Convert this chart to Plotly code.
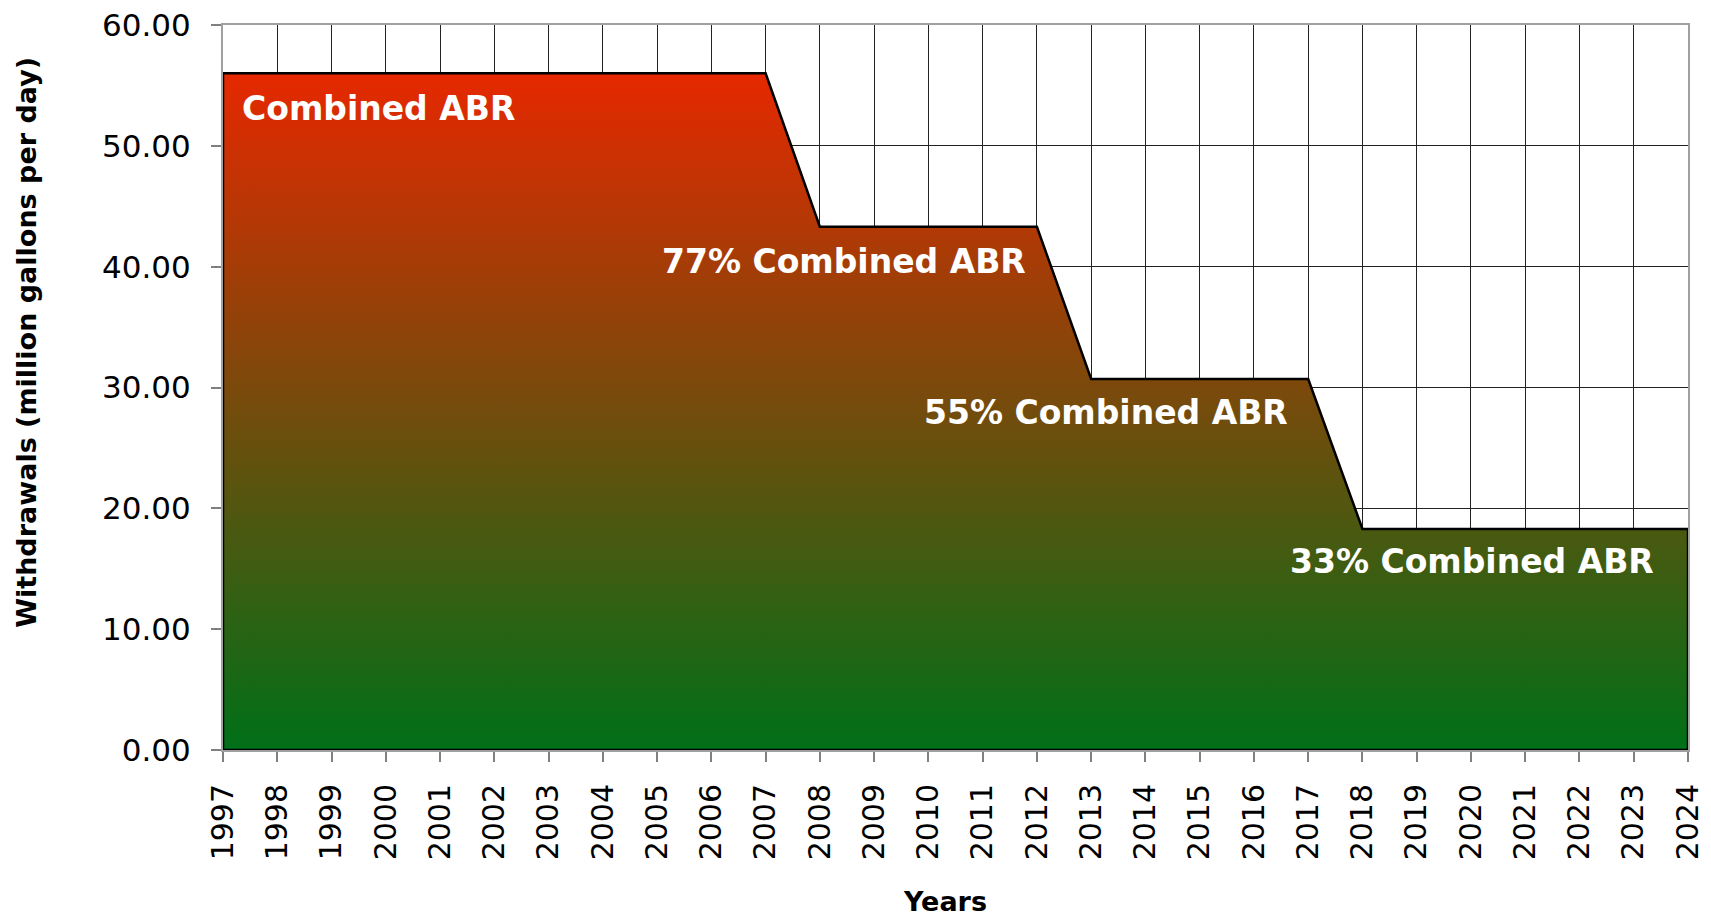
import plotly.graph_objects as go

years = list(range(1997, 2025))
withdrawals = [56.0] * 11 + [43.3] * 5 + [30.7] * 5 + [18.3] * 7

label_texts = ["Combined ABR", "77% Combined ABR", "55% Combined ABR", "33% Combined ABR"]
label_x = [1999.87, 2008.44, 2013.28, 2020.02]
label_y = [53.05, 40.39, 27.9, 15.56]

y_ticks = [0, 10, 20, 30, 40, 50, 60]

x_title = "Years"
y_title = "Withdrawals (million gallons per day)"

FONT = "DejaVu Sans"

poly_x = years + [years[-1], years[0], years[0]]
poly_y = withdrawals + [0, 0, withdrawals[0]]

fig = go.Figure()
fig.add_trace(go.Scatter(
    x=poly_x, y=poly_y, mode="lines", fill="toself",
    line=dict(color="black", width=2.5),
    fillgradient=dict(type="vertical", start=0, stop=max(withdrawals),
                      colorscale=[[0, "#007018"], [1, "#E62800"]]),
    hoverinfo="skip", showlegend=False,
))

for t, x, y in zip(label_texts, label_x, label_y):
    fig.add_annotation(x=x, y=y, text=f"<b>{t}</b>", showarrow=False,
                       xanchor="center", yanchor="middle",
                       font=dict(family=FONT, size=33, color="white"))

# axis titles as annotations (offset as in the original)
fig.add_annotation(xref="paper", yref="paper", x=-0.1338, y=0.563,
                   text=f"<b>{y_title}</b>", textangle=-90, showarrow=False,
                   xanchor="center", yanchor="middle",
                   font=dict(family=FONT, size=27, color="black"))
fig.add_annotation(xref="paper", yref="paper", x=0.4928, y=-0.2083,
                   text=f"<b>{x_title}</b>", showarrow=False,
                   xanchor="center", yanchor="middle",
                   font=dict(family=FONT, size=27, color="black"))

fig.update_layout(
    width=1703, height=908,
    margin=dict(l=215, r=23, t=17, b=166),
    plot_bgcolor="white", paper_bgcolor="white",
    font=dict(family=FONT, color="black"),
)
fig.update_xaxes(
    range=[years[0], years[-1]], tickvals=years, ticktext=[str(y) for y in years],
    tickangle=-90, tickfont=dict(size=30, family=FONT),
    showgrid=True, gridcolor="#222", gridwidth=1,
    showline=True, linecolor="#A0A0A0", linewidth=2, mirror=True,
    ticks="outside", ticklen=10, tickcolor="#808080", tickwidth=2,
    ticklabelstandoff=10, ticklabeloverflow="allow",
    automargin=False, zeroline=False,
)
fig.update_yaxes(
    range=[0, 60], tickvals=y_ticks, ticktext=[f"{v:.2f}" for v in y_ticks],
    tickfont=dict(size=31, family=FONT),
    showgrid=True, gridcolor="#222", gridwidth=1,
    showline=True, linecolor="#A0A0A0", linewidth=2, mirror=True,
    ticks="outside", ticklen=10, tickcolor="#808080", tickwidth=2,
    ticklabelstandoff=14, ticklabeloverflow="allow",
    automargin=False, zeroline=False,
)

fig.write_html("out.html")
